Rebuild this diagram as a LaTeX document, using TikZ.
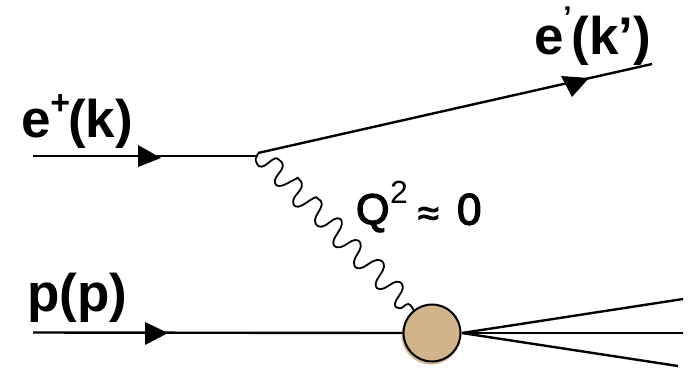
\documentclass[tikz,border=0pt]{standalone}
\usepackage{fontspec}
\setmainfont{Liberation Sans}
\newfontfamily\heavyq[FakeBold=3]{Liberation Sans}
\usetikzlibrary{calc}
\tikzset{
  fermion/.style={draw=black,line width=2.4pt},
  photon/.style={draw=black,line width=1.8pt,line join=round,line cap=round},
  tiphead/.style={fill=black,draw=none},
  lab/.style={anchor=base west,inner sep=0pt,outer sep=0pt,font=\fontsize{53}{56}\selectfont\bfseries},
  qlab/.style={anchor=base west,inner sep=0pt,outer sep=0pt,font=\fontsize{43}{46}\selectfont\heavyq},
  blob/.style={circle,minimum size=57pt,inner sep=0pt,draw=black,line width=2pt,fill=blobtan}
}
\definecolor{blobtan}{RGB}{210,180,140}
\begin{document}
\begin{tikzpicture}[x=1pt,y=-1pt]
\useasboundingbox (0,0) rectangle (692,367);
\fill[blobtan] (431,335) circle (29.5);
\coordinate (ein) at (33,156);
\coordinate (vtx) at (258,156);
\coordinate (vtxb) at (258,153);
\coordinate (eout) at (652,64);
\coordinate (pin) at (33,332.5);
\coordinate (x1) at (683,299);
\coordinate (x2) at (683,333);
\coordinate (x3) at (678,366);
\node[blob] (b) at (432,333) {};
\coordinate (bo) at (462,333);
\draw[fermion] (ein) -- (vtx);
\draw[fermion] (vtxb) -- (eout);
\draw[fermion] (pin) -- (b.west);
\draw[fermion] (bo) -- (x1);
\draw[fermion] (bo) -- (x2);
\draw[fermion] (bo) -- (x3);
\draw[photon] plot[smooth,tension=0.75] coordinates {
(258.3,153.3)(255.7,160.7)(261.7,166.7)(273.3,159.3)(278.3,159.3)(282.7,166.7)(275,180)(280,186)(295,179.3)(298.3,178.3)(301.7,186.7)(293.3,200)(298.3,206.7)(313.3,198.3)(317.3,198.3)(321.7,205)(315,220)(321.7,226.7)(336.7,218.3)(341.7,225)(333.3,241.7)(340,247.3)(355,240)(360.7,246.7)(354,261.7)(360,268.3)(376.7,260)(384,266.7)(375.7,283.3)(381.7,289)(396.7,281.7)(402.7,288.3)(395,303.3)(400,308.3)(408.3,304)(413.3,310)};
\path[tiphead] (138,145) -- (161,158) -- (138,167) -- cycle;
\path[tiphead] (145,322) -- (168,333) -- (145,345) -- cycle;
\path[tiphead] (561,76) -- (589,78) -- (572,97) -- cycle;
\node[lab] (lep) at (21,137) {e\raisebox{.42em}{\fontsize{34}{34}\selectfont +}\kern-2pt(k)};
\node[lab] (lpr) at (27,311) {p(p)};
\node[lab] (lsc) at (534,54) {e\raisebox{.5em}{\fontsize{30}{30}\selectfont ’}(k’)};
\node[qlab] (lq) at (356,224) {Q};
\node[anchor=base west,inner sep=0pt,font=\fontsize{32}{32}\selectfont] (l2) at (390,203) {2};
\node[qlab,font=\fontsize{38}{40}\selectfont\heavyq] (lap) at (418,226) {≈};
\node[qlab,font=\fontsize{44}{46}\selectfont\heavyq] (l0) at (457,224.5) {0};
\end{tikzpicture}
\end{document}
